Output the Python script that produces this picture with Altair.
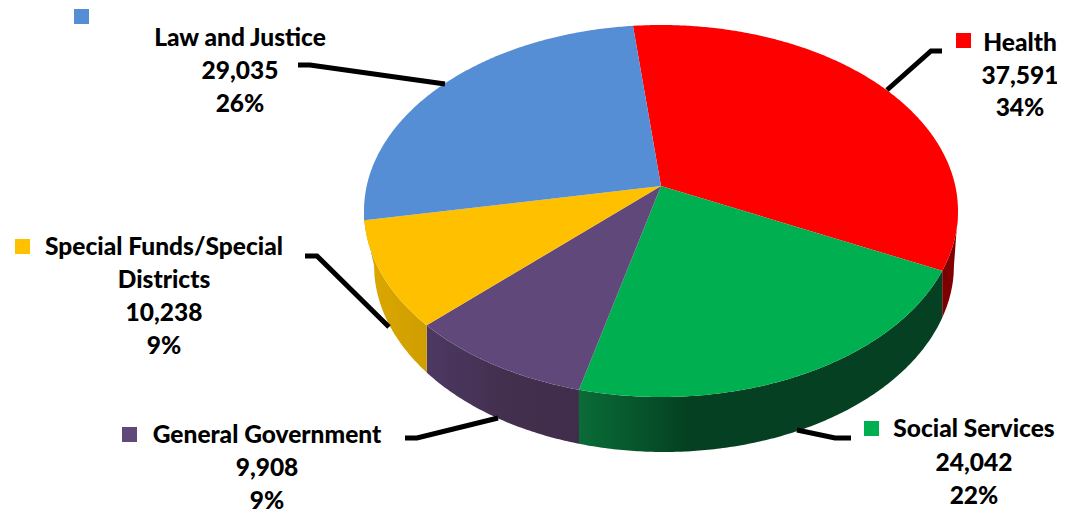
import math
import altair as alt

# ---- chart values -------------------------------------------------------
categories = ["Health", "Social Services", "General Government",
              "Special Funds/Special Districts", "Law and Justice"]
values = [37591, 24042, 9908, 10238, 29035]
value_labels = ["37,591", "24,042", "9,908", "10,238", "29,035"]
percent_labels = ["34%", "22%", "9%", "9%", "26%"]
name_lines = [["Health"], ["Social Services"], ["General Government"],
              ["Special Funds/Special", "Districts"], ["Law and Justice"]]
colors = ["#FF0000", "#00B050", "#60497A", "#FFC000", "#558ED5"]

# ---- layout (page pixels) -----------------------------------------------
W, H = 1049, 505
START_DEG = -6.2
TOP = dict(cx=661, cy=211, rx=297, ry=186)
BOT = dict(cx=664, cy=265, rx=290, ry=187)
PERSP = 25 / 186
label_center = [1020, 974, 267, 164, 240]
label_base = [51, 437, 443, 255, 46]
line_h = [32.5, 33.5, 33, 33, 33]
squares = [(963.5, 40.5), (871.5, 428.5), (129.5, 434.5), (22.5, 246.5), (81.5, 16.5)]
leaders = [
    [(942, 51), (931, 51), (887, 90)],
    [(851, 438), (835, 438), (797, 430)],
    [(405, 438), (417, 438), (498, 418)],
    [(305, 256), (317, 256), (389, 327)],
    [(298, 65), (310, 65), (445, 84)],
]
wall_stops = [
    [("#7c0000", 0), ("#800000", 1)],
    [("#0a6c37", 0), ("#06542b", 0.17), ("#044021", 0.3), ("#044021", 1)],
    [("#4c3862", 0), ("#43304f", 0.5), ("#3f2d4b", 1)],
    [("#dca800", 0), ("#cf9e00", 1)],
    [("#3f6ba0", 0), ("#3f6ba0", 1)],
]
FONT = "Lato"
FONT_SIZE = 24.5
FONT_WEIGHT = 900

projection = alt.Projection(type="identity", scale=1, translate=[-8, -8])


def ellipse_point(theta_deg):
    """Slice angle to the tilted pie's rim, with the perspective of the drawing."""
    th = math.radians(theta_deg)
    x0, y0 = math.sin(th), math.cos(th)
    d = 1 + PERSP * y0
    return x0 * math.sqrt(1 - PERSP ** 2) / d, (y0 + PERSP) / d


def top_xy(nx, ny):
    return TOP["cx"] + TOP["rx"] * nx, TOP["cy"] - TOP["ry"] * ny


def bottom_xy(x):
    bx = min(max(x, BOT["cx"] - BOT["rx"]), BOT["cx"] + BOT["rx"])
    u = (bx - BOT["cx"]) / BOT["rx"]
    return bx, BOT["cy"] + BOT["ry"] * math.sqrt(max(0, 1 - u * u))


total = sum(values)
apex = top_xy(0, PERSP)
faces, walls = [], []
start = START_DEG
for name, val in zip(categories, values):
    span = 360 * val / total
    steps = max(2, int(span * 2))
    rim = [ellipse_point(start + span * i / steps) for i in range(steps + 1)]
    ring = [apex] + [top_xy(*p) for p in rim] + [apex]
    faces.append({"type": "Feature", "properties": {"name": name},
                  "geometry": {"type": "Polygon", "coordinates": [[list(p) for p in ring]]}})
    front = [top_xy(*p) for p in rim if p[1] <= 0]
    if len(front) > 1:
        lower = [bottom_xy(p[0]) for p in front]
        loop = front + lower[::-1] + [front[0]]
        walls.append((categories.index(name), {
            "type": "Feature", "properties": {"name": name},
            "geometry": {"type": "Polygon", "coordinates": [[list(p) for p in loop]]}}))
    start += span

layers = []
for idx, wall in walls:
    grad = alt.Gradient(gradient="linear", x1=0, x2=1, y1=0, y2=0,
                        stops=[alt.GradientStop(color=c, offset=o) for c, o in wall_stops[idx]])
    layers.append(alt.Chart(alt.Data(values=[wall]))
                  .mark_geoshape(fill=grad, strokeWidth=0)
                  .project(**projection.to_dict()))

layers.append(
    alt.Chart(alt.Data(values=faces)).mark_geoshape(strokeWidth=0)
    .encode(color=alt.Color("properties.name:N", legend=None,
                            scale=alt.Scale(domain=categories, range=colors)))
    .project(**projection.to_dict())
)

for pts in leaders:
    line = {"type": "Feature", "properties": {},
            "geometry": {"type": "LineString", "coordinates": [list(p) for p in pts]}}
    layers.append(alt.Chart(alt.Data(values=[line]))
                  .mark_geoshape(filled=False, stroke="black", strokeWidth=5,
                                 strokeCap="butt", strokeJoin="miter")
                  .project(**projection.to_dict()))

sq_rows = [{"lon": s[0], "lat": s[1], "name": c} for s, c in zip(squares, categories)]
layers.append(
    alt.Chart(alt.Data(values=sq_rows)).mark_square(size=225, opacity=1)
    .encode(longitude="lon:Q", latitude="lat:Q",
            color=alt.Color("name:N", legend=None,
                            scale=alt.Scale(domain=categories, range=colors)))
    .project(**projection.to_dict())
)

text_rows = []
for i in range(len(categories)):
    lines = name_lines[i] + [value_labels[i], percent_labels[i]]
    for j, t in enumerate(lines):
        text_rows.append({"lon": label_center[i], "lat": label_base[i] + j * line_h[i], "t": t})
layers.append(
    alt.Chart(alt.Data(values=text_rows))
    .mark_text(font=FONT, fontSize=FONT_SIZE, fontWeight=FONT_WEIGHT, color="black",
               align="center", baseline="alphabetic")
    .encode(longitude="lon:Q", latitude="lat:Q", text="t:N")
    .project(**projection.to_dict())
)

chart = alt.layer(*layers).properties(
    width=W, height=H, padding=0, background="white"
).configure_view(stroke=None)

chart.save("out.html", embed_options={"renderer": "svg", "actions": False})
